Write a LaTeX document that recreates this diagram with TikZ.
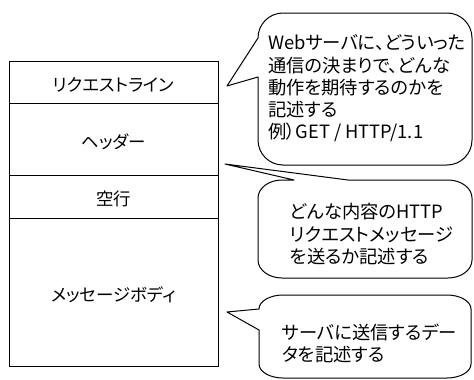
\documentclass[tikz,border=0pt]{standalone}
\usepackage{fontspec}
\setmainfont[RawFeature=+palt]{Noto Sans CJK JP}
\begin{document}
\begin{tikzpicture}[x=1pt,y=-1pt,
  rowbox/.style={draw, line width=0.8pt, minimum width=209pt, inner sep=0pt,
    font=\fontsize{17.4}{20}\selectfont, text height=19pt, text depth=0.5pt},
  balloon/.style={draw, line width=1pt, line join=round, fill=white},
  ctext/.style={anchor=west, align=left, inner sep=0pt,
    font=\fontsize{18.3}{22.3}\selectfont}]
\useasboundingbox (0,0) rectangle (474,380);

% stacked request message
\node[rowbox, minimum height=42pt]  (r1) at (113.5,82)  {リクエストライン};
\node[rowbox, minimum height=72pt]  (r2) at (113.5,139) {ヘッダー};
\node[rowbox, minimum height=43pt]  (r3) at (113.5,196.5) {空行};
\node[rowbox, minimum height=148pt] (r4) at (113.5,292) {メッセージボディ};

% tail tips
\coordinate (tip1) at (227,86);
\coordinate (tip2) at (225,164);
\coordinate (tip3) at (227,312);

% callout 1
\draw[balloon] (258,77) -- (tip1) -- (258,38)
  .. controls (258,24.2) and (269.2,13) .. (283,13) -- (447,13)
  .. controls (460.8,13) and (472,24.2) .. (472,38) -- (472,140)
  .. controls (472,153.8) and (460.8,165) .. (447,165) -- (283,165)
  .. controls (269.2,165) and (258,153.8) .. (258,140) -- cycle;

% callout 2
\draw[balloon] (294,180) -- (tip2) -- (348,180) -- (448,180)
  .. controls (461.2,180) and (472,188.1) .. (472,198) -- (472,260)
  .. controls (472,269.9) and (461.2,278) .. (448,278) -- (282,278)
  .. controls (268.8,278) and (258,269.9) .. (258,260) -- (258,198)
  .. controls (258,188.1) and (268.8,180) .. (282,180) -- cycle;

% callout 3
\draw[balloon] (259,330) -- (tip3) -- (259,309)
  .. controls (259,301.3) and (269.8,295) .. (283,295) -- (447,295)
  .. controls (460.2,295) and (471,301.3) .. (471,309) -- (471,364)
  .. controls (471,371.7) and (460.2,378) .. (447,378) -- (283,378)
  .. controls (269.8,378) and (259,371.7) .. (259,364) -- cycle;

% callout texts
\node[ctext] (c1) at (268,88.5) {Webサーバに、どういった\\通信の決まりで、どんな\\動作を期待するのかを\\記述する\\例）GET / HTTP/1.1};
\node[ctext] (c2) at (290,234) {どんな内容のHTTP\\リクエストメッセージ\\を送るか記述する};
\node[ctext] (c3) at (282,343.5) {サーバに送信するデー\\タを記述する};
\end{tikzpicture}
\end{document}
